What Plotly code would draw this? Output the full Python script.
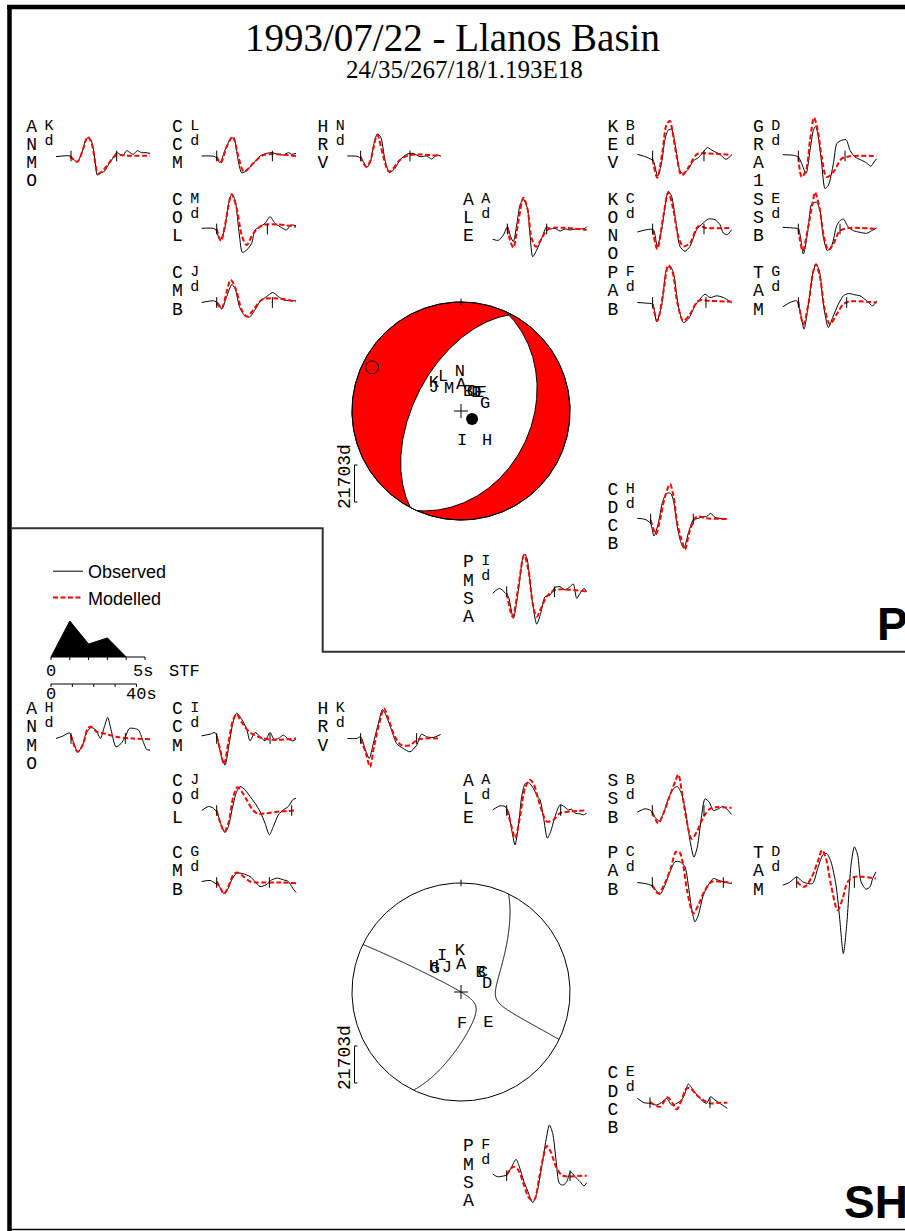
import numpy as np
import plotly.graph_objects as go

W, H = 905, 1231

# ---------------------------------------------------------------- data
TITLE = "1993/07/22 - Llanos Basin"
STRIKE, DIP, RAKE, DEPTH = 24, 35, 267, 18
M0_TEXT = "1.193E18"
AMP_LABEL = "21703d"

DT = 44.0 / 282          # seconds per digitised step
STF_T = [0, 1, 2, 3, 4]
STF_A = [0.0, 1.0, 0.36, 0.53, 0.0]
STF_TICKS = [0, 1, 2, 3, 4, 5]
TIME_BAR_TICKS = [0, 10, 20, 30, 40]

P_STA = ['ANMO', 'CCM', 'HRV', 'COL', 'CMB', 'ALE', 'KEV', 'KONO', 'PAB', 'GRA1', 'SSB', 'TAM', 'CDCB', 'PMSA']
P_CODE = ['K', 'L', 'N', 'M', 'J', 'A', 'B', 'C', 'F', 'D', 'E', 'G', 'H', 'I']
P_PICK1 = [45, 45, 40, 45, 45, 44, 46, 46, 46, 47, 47, 47, 40, 42]
P_PICK2 = [182, 212, 188, 197, 212, 162, 200, 200, 206, 187, 172, 192, 168, 185]

SH_STA = ['ANMO', 'CCM', 'HRV', 'COL', 'CMB', 'ALE', 'SSB', 'PAB', 'TAM', 'CDCB', 'PMSA']
SH_CODE = ['H', 'I', 'K', 'J', 'G', 'A', 'B', 'C', 'D', 'E', 'F']
SH_PICK1 = [45, 45, 40, 45, 45, 42, 45, 45, 42, 38, 42]
SH_PICK2 = [208, 205, 208, 270, 203, 204, 200, 258, 215, 218, 232]

# waveforms: (sample step, amplitude counts)
P_ANMO_OBS = [(0,-2),(42,0),(52,-10),(64,-17),(77,8),(90,50),(97,56),(107,43),(117,-12),(124,-57),(137,-50),(147,-44),(154,-32),(167,-12),(182,10),(192,5),(200,0),(212,16),(222,10),(232,5),(244,16),(257,10),(270,10),(282,8)]
P_ANMO_SYN = [(42,0),(64,-17),(82,23),(95,58),(107,38),(127,-52),(142,-42),(154,-27),(182,3),(212,1),(282,1)]
P_CCM_OBS = [(0,0),(40,-2),(55,-20),(70,18),(90,56),(100,43),(110,-17),(120,-50),(135,-44),(155,-22),(175,0),(195,8),(212,10),(225,6),(245,3),(260,10),(270,5),(283,8)]
P_CCM_SYN = [(45,-2),(57,-20),(75,28),(93,58),(110,-2),(127,-47),(155,-22),(185,3),(283,0)]
P_HRV_OBS = [(0,0),(33,-2),(48,-17),(58,-34),(68,-22),(78,28),(90,66),(100,58),(113,-12),(126,-50),(143,-37),(158,-12),(178,5),(198,8),(218,-2),(238,0),(253,-9),(268,3),(280,0)]
P_HRV_SYN = [(40,-2),(56,-32),(68,-17),(90,63),(108,-2),(126,-47),(158,-12),(188,3),(280,0)]
P_COL_OBS = [(0,2),(40,0),(55,-33),(67,-8),(80,72),(90,104),(100,87),(113,-18),(122,-70),(135,-63),(150,-43),(160,-3),(175,7),(190,17),(205,37),(220,17),(240,4),(255,-3),(267,12),(283,10)]
P_COL_SYN = [(45,0),(58,-36),(70,12),(90,104),(105,62),(120,-18),(135,-48),(155,-13),(185,12),(283,7)]
P_CMB_OBS = [(0,0),(35,5),(50,-2),(60,-20),(75,18),(90,53),(100,43),(113,-12),(127,-37),(143,-44),(160,-22),(175,3),(195,18),(213,30),(230,18),(245,8),(283,5)]
P_CMB_SYN = [(45,-2),(60,-17),(75,33),(87,68),(103,38),(120,-22),(135,-42),(155,-22),(180,8),(215,13),(283,3)]
P_ALE_OBS = [(0,-31),(17,-34),(32,-18),(44,7),(54,-23),(62,-38),(72,12),(82,72),(92,90),(104,62),(112,-18),(120,-83),(132,-63),(147,-28),(162,7),(172,0),(187,2),(202,-6),(217,0),(232,-3),(247,0),(262,0),(277,2),(282,7)]
P_ALE_SYN = [(44,2),(52,-33),(62,-56),(77,22),(92,94),(104,62),(117,-28),(130,-53),(147,-28),(167,0),(282,-3)]
P_KEV_OBS = [(0,5),(18,0),(38,-8),(48,-15),(61,-60),(73,-20),(83,50),(93,78),(103,80),(116,20),(128,-45),(138,-52),(153,-40),(168,-15),(183,-5),(198,12),(210,25),(228,15),(248,5),(266,-10),(283,3)]
P_KEV_SYN = [(46,-10),(60,-65),(75,10),(88,95),(98,105),(106,70),(118,0),(133,-58),(153,-35),(178,5),(198,8),(283,3)]
P_KONO_OBS = [(0,-9),(28,-2),(48,-2),(60,-52),(73,-2),(83,68),(93,113),(103,98),(116,18),(128,-52),(143,-67),(158,-52),(178,-2),(198,18),(213,30),(233,28),(248,13),(258,-12),(270,-17),(283,-2)]
P_KONO_SYN = [(46,-2),(60,-60),(78,38),(93,110),(108,58),(123,-22),(138,-52),(158,-42),(183,8),(208,3),(283,3)]
P_PAB_OBS = [(0,0),(28,-2),(46,-5),(58,-58),(73,-10),(88,100),(98,110),(108,90),(123,-10),(138,-60),(153,-50),(173,-10),(188,10),(203,25),(218,15),(238,20),(258,15),(283,0)]
P_PAB_SYN = [(46,-5),(60,-55),(78,30),(93,112),(106,90),(120,0),(138,-55),(158,-35),(183,5),(218,5),(283,2)]
P_GRA1_OBS = [(0,4),(32,2),(47,-3),(57,-23),(70,-53),(82,17),(92,77),(99,89),(107,57),(117,-23),(127,-98),(137,-88),(152,-23),(162,37),(172,45),(190,49),(202,17),(217,-3),(237,-13),(252,-21),(264,-31),(274,-18),(282,-8)]
P_GRA1_SYN = [(47,-3),(57,-63),(70,-43),(82,47),(94,115),(105,77),(117,-3),(132,-63),(152,-48),(177,-8),(202,-1),(282,0)]
P_SSB_OBS = [(0,5),(32,3),(47,0),(62,-75),(77,5),(87,75),(102,80),(112,55),(122,-25),(134,-65),(147,-50),(162,10),(172,25),(182,30),(197,5),(212,-5),(232,-10),(252,-13),(267,-5),(282,3)]
P_SSB_SYN = [(47,0),(60,-65),(77,10),(90,80),(97,110),(110,65),(124,-25),(137,-63),(152,-45),(172,-5),(202,3),(282,0)]
P_TAM_OBS = [(0,-13),(22,0),(42,5),(52,-25),(64,-80),(77,-5),(90,85),(100,115),(110,95),(122,-5),(137,-75),(150,-45),(167,-5),(182,20),(197,27),(217,23),(232,20),(252,5),(270,-10),(282,5)]
P_TAM_SYN = [(47,3),(62,-65),(77,-5),(92,95),(100,115),(112,75),(127,-25),(142,-65),(162,-35),(182,-5),(202,3),(282,0)]
P_CDCB_OBS = [(0,2),(23,-1),(40,-13),(50,-51),(63,-13),(76,52),(88,77),(100,77),(108,57),(120,-23),(130,-68),(140,-88),(153,-43),(168,-3),(183,2),(198,7),(208,7),(220,17),(233,5),(248,2),(270,0)]
P_CDCB_SYN = [(40,-3),(56,-45),(68,-3),(83,67),(98,105),(108,72),(120,-13),(133,-63),(143,-91),(158,-33),(178,7),(208,2),(270,0)]
P_PMSA_OBS = [(0,-5),(20,10),(37,-3),(47,-15),(62,-80),(77,5),(90,100),(97,113),(104,95),(117,-15),(132,-97),(144,-65),(157,-15),(172,-10),(187,13),(202,15),(217,5),(232,15),(242,23),(252,-20),(262,-5),(274,10),(282,0)]
P_PMSA_SYN = [(42,-5),(60,-75),(77,15),(94,110),(107,65),(120,-35),(132,-75),(147,-45),(162,-15),(187,5),(282,0)]

SH_ANMO_OBS = [(0,0),(20,7),(40,17),(50,-5),(65,-40),(78,-25),(90,15),(105,33),(120,25),(133,0),(145,35),(155,63),(165,27),(180,-25),(195,-15),(208,5),(220,30),(235,30),(248,25),(260,-5),(272,-33),(282,-35)]
SH_ANMO_SYN = [(45,10),(65,-40),(82,-15),(95,30),(105,35),(122,20),(145,15),(180,5),(230,0),(282,-2)]
SH_CCM_OBS = [(0,8),(25,13),(40,18),(47,0),(60,-57),(70,-80),(83,-12),(95,53),(105,76),(120,58),(135,28),(145,-7),(160,18),(173,8),(190,-7),(205,18),(217,-2),(230,0),(245,10),(260,-2),(273,-7),(283,-2)]
SH_CCM_SYN = [(45,8),(55,-32),(67,-77),(80,-12),(95,58),(105,73),(120,48),(145,18),(175,3),(215,-4),(283,0)]
SH_HRV_OBS = [(0,0),(28,0),(40,5),(53,-30),(66,-60),(78,-15),(93,45),(106,87),(118,65),(133,25),(148,-15),(168,-30),(188,-40),(208,-20),(223,13),(238,5),(258,3),(280,12)]
SH_HRV_SYN = [(40,0),(56,-45),(68,-85),(80,-25),(96,45),(110,90),(123,60),(143,5),(163,-20),(188,-20),(213,-3),(280,0)]
SH_COL_OBS = [(0,0),(20,12),(35,7),(47,-8),(60,-48),(70,-66),(80,-48),(93,12),(105,57),(115,72),(130,62),(145,42),(160,22),(175,-3),(190,-38),(203,-73),(215,-48),(230,-13),(245,2),(260,12),(273,32),(283,37)]
SH_COL_SYN = [(45,0),(58,-43),(68,-63),(80,-38),(95,42),(107,70),(120,57),(135,32),(153,2),(170,-10),(195,-8),(235,-3),(283,0)]
SH_CMB_OBS = [(0,3),(25,6),(40,-2),(53,-12),(65,-32),(77,-22),(90,8),(105,28),(125,26),(145,18),(160,3),(175,-12),(193,-7),(210,8),(227,13),(245,8),(260,3),(273,-17),(283,-30)]
SH_CMB_SYN = [(45,3),(55,-14),(67,-34),(80,-12),(95,23),(107,30),(125,18),(145,3),(165,0),(195,0),(235,0),(283,-2)]
SH_ALE_OBS = [(0,2),(22,14),(37,12),(47,-3),(57,-58),(67,-103),(77,-48),(87,42),(97,80),(107,84),(122,67),(134,42),(142,32),(152,-18),(164,-83),(174,-63),(187,-18),(202,17),(214,12),(227,2),(237,4),(247,-8),(262,-10),(272,-13),(282,-8)]
SH_ALE_SYN = [(42,2),(54,-38),(67,-83),(82,-18),(97,67),(112,92),(124,77),(137,32),(150,-8),(162,-33),(182,-28),(202,-8),(232,-3),(282,0)]
SH_SSB_OBS = [(0,-5),(23,5),(40,0),(53,-20),(66,-32),(78,-10),(93,35),(108,65),(120,72),(133,50),(146,-10),(158,-90),(170,-140),(180,-110),(193,-15),(203,35),(216,25),(228,0),(243,5),(256,12),(268,5),(283,-12)]
SH_SSB_SYN = [(45,-5),(63,-38),(78,-10),(96,40),(113,85),(123,108),(133,60),(148,-30),(163,-85),(178,-65),(198,-20),(218,5),(238,10),(283,8)]
SH_PAB_OBS = [(0,0),(23,-3),(45,-10),(56,-23),(68,-36),(83,-8),(98,32),(113,62),(128,62),(143,47),(153,-8),(163,-78),(173,-118),(183,-98),(198,-38),(213,-8),(228,12),(243,7),(258,2),(283,-3)]
SH_PAB_SYN = [(45,-8),(63,-33),(80,-8),(100,42),(116,92),(126,92),(136,62),(150,-28),(168,-93),(183,-68),(203,-23),(223,2),(253,2),(283,0)]
SH_TAM_OBS = [(0,-8),(20,0),(42,17),(60,2),(75,-3),(90,-3),(105,42),(120,82),(132,87),(145,62),(160,-8),(170,-98),(182,-213),(192,-128),(205,52),(215,107),(225,82),(235,2),(250,-20),(262,-13),(270,12),(280,32)]
SH_TAM_SYN = [(42,2),(65,-13),(85,12),(105,62),(118,97),(130,72),(145,-8),(165,-83),(180,-48),(195,2),(215,17),(240,17),(280,12)]
SH_CDCB_OBS = [(0,13),(20,0),(38,-2),(58,-7),(76,3),(88,13),(103,-7),(118,-2),(133,8),(143,28),(153,56),(168,38),(183,18),(198,3),(208,-2),(220,18),(233,8),(248,-2),(270,-17)]
SH_CDCB_SYN = [(38,3),(68,-12),(90,16),(106,-2),(118,-20),(133,8),(148,43),(160,43),(178,23),(198,8),(218,-2),(248,0),(270,0)]
SH_PMSA_OBS = [(0,5),(14,-3),(32,-1),(42,2),(57,27),(70,49),(80,27),(92,-13),(104,-43),(120,-81),(132,-53),(147,27),(160,107),(170,152),(180,127),(190,47),(200,-23),(212,-28),(222,-18),(234,12),(247,-3),(262,-18),(274,-31),(282,-21)]
SH_PMSA_SYN = [(42,2),(62,27),(77,17),(92,-23),(110,-68),(124,-73),(140,-3),(152,57),(162,89),(174,72),(190,27),(207,2),(227,-3),(252,-1),(282,0)]

# station projections on the focal spheres (unit circle coordinates)
P_BALL_CODE = ['N', 'L', 'K', 'J', 'M', 'A', 'B', 'C', 'D', 'E', 'F', 'G', 'I', 'H']
P_BALL_X = [-0.01, -0.165, -0.25, -0.25, -0.11, 0.0, 0.064, 0.10, 0.14, 0.165, 0.19, 0.22, 0.01, 0.24]
P_BALL_Y = [0.36, 0.31, 0.26, 0.21, 0.20, 0.24, 0.18, 0.18, 0.17, 0.17, 0.17, 0.07, -0.27, -0.27]
SH_BALL_CODE = ['K', 'I', 'H', 'G', 'J', 'A', 'B', 'C', 'D', 'F', 'E']
SH_BALL_X = [-0.01, -0.174, -0.25, -0.24, -0.13, 0.0, 0.18, 0.20, 0.24, 0.01, 0.25]
SH_BALL_Y = [0.376, 0.33, 0.23, 0.21, 0.22, 0.25, 0.18, 0.18, 0.08, -0.29, -0.28]

P_WAVES = {'ANMO': (P_ANMO_OBS, P_ANMO_SYN), 'CCM': (P_CCM_OBS, P_CCM_SYN), 'HRV': (P_HRV_OBS, P_HRV_SYN),
           'COL': (P_COL_OBS, P_COL_SYN), 'CMB': (P_CMB_OBS, P_CMB_SYN), 'ALE': (P_ALE_OBS, P_ALE_SYN),
           'KEV': (P_KEV_OBS, P_KEV_SYN), 'KONO': (P_KONO_OBS, P_KONO_SYN), 'PAB': (P_PAB_OBS, P_PAB_SYN),
           'GRA1': (P_GRA1_OBS, P_GRA1_SYN), 'SSB': (P_SSB_OBS, P_SSB_SYN), 'TAM': (P_TAM_OBS, P_TAM_SYN),
           'CDCB': (P_CDCB_OBS, P_CDCB_SYN), 'PMSA': (P_PMSA_OBS, P_PMSA_SYN)}
SH_WAVES = {'ANMO': (SH_ANMO_OBS, SH_ANMO_SYN), 'CCM': (SH_CCM_OBS, SH_CCM_SYN), 'HRV': (SH_HRV_OBS, SH_HRV_SYN),
            'COL': (SH_COL_OBS, SH_COL_SYN), 'CMB': (SH_CMB_OBS, SH_CMB_SYN), 'ALE': (SH_ALE_OBS, SH_ALE_SYN),
            'SSB': (SH_SSB_OBS, SH_SSB_SYN), 'PAB': (SH_PAB_OBS, SH_PAB_SYN), 'TAM': (SH_TAM_OBS, SH_TAM_SYN),
            'CDCB': (SH_CDCB_OBS, SH_CDCB_SYN), 'PMSA': (SH_PMSA_OBS, SH_PMSA_SYN)}

# ---------------------------------------------------------------- layout
COL_X = [56.0, 201.7, 347.3, 492.7, 637.3, 782.7]
P_ROW_Y = [156.0, 229.0, 302.5, 519.0, 591.7]
SH_ROW_Y = [738.5, 810.5, 882.5, 1102.7, 1175.7]
P_CELL = {'ANMO': (0, 0), 'CCM': (1, 0), 'HRV': (2, 0), 'COL': (1, 1), 'CMB': (1, 2), 'ALE': (3, 1),
          'KEV': (4, 0), 'KONO': (4, 1), 'PAB': (4, 2), 'GRA1': (5, 0), 'SSB': (5, 1), 'TAM': (5, 2),
          'CDCB': (4, 3), 'PMSA': (3, 4)}
SH_CELL = {'ANMO': (0, 0), 'CCM': (1, 0), 'HRV': (2, 0), 'COL': (1, 1), 'CMB': (1, 2), 'ALE': (3, 1),
           'SSB': (4, 1), 'PAB': (4, 2), 'TAM': (5, 2), 'CDCB': (4, 3), 'PMSA': (3, 4)}
P_BALL_C = (461.0, 411.0)
SH_BALL_C = (461.0, 992.0)
BALL_R = 109.0
PPS = 1.0 / (3 * DT)      # px per second
PPC = 1.0 / 3             # px per amplitude count
MONO = 'Liberation Mono'

fig = go.Figure()
axes_layout = {}
counter = {'n': 1}


def new_axes(px_l, px_r, px_t, px_b, x0, y0, sx, sy):
    px_l = max(px_l, 0.0); px_r = min(px_r, W)
    px_t = max(px_t, 0.0); px_b = min(px_b, H)
    counter['n'] += 1
    n = counter['n']
    axes_layout[f'xaxis{n}'] = dict(domain=[px_l / W, px_r / W], range=[(px_l - x0) / sx, (px_r - x0) / sx],
                                    visible=False, fixedrange=True, anchor=f'y{n}')
    axes_layout[f'yaxis{n}'] = dict(domain=[1 - px_b / H, 1 - px_t / H], range=[(y0 - px_b) / sy, (y0 - px_t) / sy],
                                    visible=False, fixedrange=True, anchor=f'x{n}')
    return f'x{n}', f'y{n}'


lab_x, lab_y, lab_t = [], [], []
sup_x, sup_y, sup_t = [], [], []


def add_station(name, code, obs, syn, picks, x0, y0, legend):
    xa, ya = new_axes(x0 - 8, x0 + 102, y0 - 85, y0 + 85, x0, y0, PPS, PPC)
    fig.add_trace(go.Scatter(x=[k * DT for k, _ in obs], y=[a for _, a in obs], xaxis=xa, yaxis=ya, mode='lines',
                             line=dict(color='black', width=1, shape='spline', smoothing=0.7),
                             name='Observed', showlegend=legend, hoverinfo='skip'))
    fig.add_trace(go.Scatter(x=[k * DT for k, _ in syn], y=[a for _, a in syn], xaxis=xa, yaxis=ya, mode='lines',
                             line=dict(color='red', width=2, dash='5px,2.5px', shape='spline', smoothing=0.9),
                             name='Modelled', showlegend=legend, hoverinfo='skip'))
    tx, ty = [], []
    for p in picks:
        tx.extend([p * DT, p * DT, None])
        ty.extend([16, -16, None])
    fig.add_trace(go.Scatter(x=tx, y=ty, xaxis=xa, yaxis=ya, mode='lines', line=dict(color='black', width=1),
                             showlegend=False, hoverinfo='skip'))
    for i, ch in enumerate(name):
        lab_x.append(x0 - 24.3); lab_y.append(y0 - 29 + 18.3 * i); lab_t.append(ch)
    sup_x.extend([x0 - 7, x0 - 7]); sup_y.extend([y0 - 30, y0 - 15]); sup_t.extend([code, 'd'])


first = True
for i, st in enumerate(P_STA):
    c, r = P_CELL[st]
    add_station(st, P_CODE[i], *P_WAVES[st], [P_PICK1[i], P_PICK2[i]], COL_X[c], P_ROW_Y[r], first)
    first = False
for i, st in enumerate(SH_STA):
    c, r = SH_CELL[st]
    add_station(st, SH_CODE[i], *SH_WAVES[st], [SH_PICK1[i], SH_PICK2[i]], COL_X[c], SH_ROW_Y[r], False)

fig.add_trace(go.Scatter(x=lab_x, y=lab_y, text=lab_t, mode='text', textposition='middle center',
                         textfont=dict(family=MONO, size=18, color='black'), showlegend=False, hoverinfo='skip'))
fig.add_trace(go.Scatter(x=sup_x, y=sup_y, text=sup_t, mode='text', textposition='middle center',
                         textfont=dict(family=MONO, size=15, color='black'), showlegend=False, hoverinfo='skip'))

# ---------------------------------------------------------------- focal mechanism geometry
s, dp, rk = np.radians([STRIKE, DIP, RAKE])
n_vec = np.array([-np.sin(dp) * np.sin(s), np.sin(dp) * np.cos(s), -np.cos(dp)])
u_vec = np.array([np.cos(rk) * np.cos(s) + np.sin(rk) * np.cos(dp) * np.sin(s),
                  np.cos(rk) * np.sin(s) - np.sin(rk) * np.cos(dp) * np.cos(s),
                  -np.sin(rk) * np.sin(dp)])
up2 = -u_vec if u_vec[2] > 0 else u_vec
dip2 = np.degrees(np.arccos(abs(u_vec[2])))
strike2 = (np.degrees(np.arctan2(up2[1], up2[0])) - 90) % 360


def to_xy(v):
    v = np.asarray(v, float)
    v = v / np.linalg.norm(v)
    if v[2] < 0:
        v = -v
    pl = np.arcsin(np.clip(v[2], -1, 1)); tr = np.arctan2(v[1], v[0])
    r = np.sqrt(2) * np.sin((np.pi / 2 - pl) / 2)
    return r * np.sin(tr), r * np.cos(tr)


def plane_curve(strike, dip, n=241):
    st, dd = np.radians(strike), np.radians(dip)
    th = np.linspace(0, np.pi, n)
    sv = np.array([np.cos(st), np.sin(st), 0.0])
    dv = np.array([np.cos(dd) * np.cos(st + np.pi / 2), np.cos(dd) * np.sin(st + np.pi / 2), np.sin(dd)])
    v = np.outer(np.cos(th), sv) + np.outer(np.sin(th), dv)
    pl = np.arcsin(np.clip(v[:, 2], -1, 1)); tr = np.arctan2(v[:, 1], v[:, 0])
    r = np.sqrt(2) * np.sin((np.pi / 2 - pl) / 2)
    return r * np.sin(tr), r * np.cos(tr)


th = np.linspace(0, 2 * np.pi, 361)
circ_x, circ_y = np.sin(th), np.cos(th)


def ball_axes(c):
    cx, cy = c
    return new_axes(cx - 125, cx + 125, cy - 125, cy + 125, cx, cy, BALL_R, BALL_R)


# P ball
xa, ya = ball_axes(P_BALL_C)
fig.add_trace(go.Scatter(x=circ_x, y=circ_y, xaxis=xa, yaxis=ya, mode='lines', fill='toself', fillcolor='red',
                         line=dict(color='black', width=1), showlegend=False, hoverinfo='skip'))
x1, y1 = plane_curve(STRIKE, DIP)
x2, y2 = plane_curve(strike2, dip2)
fig.add_trace(go.Scatter(x=np.concatenate([x1, x2, x1[:1]]), y=np.concatenate([y1, y2, y1[:1]]), xaxis=xa, yaxis=ya,
                         mode='lines', fill='toself', fillcolor='white', line=dict(color='black', width=1),
                         showlegend=False, hoverinfo='skip'))
fig.add_trace(go.Scatter(x=circ_x, y=circ_y, xaxis=xa, yaxis=ya, mode='lines', line=dict(color='black', width=1),
                         showlegend=False, hoverinfo='skip'))
fig.add_trace(go.Scatter(x=[0, 0], y=[0.97, 1.03], xaxis=xa, yaxis=ya, mode='lines', line=dict(color='black', width=1),
                         showlegend=False, hoverinfo='skip'))
tx_, ty_ = to_xy((n_vec + u_vec) / np.sqrt(2))
px_, py_ = to_xy((n_vec - u_vec) / np.sqrt(2))
fig.add_trace(go.Scatter(x=[tx_], y=[ty_], xaxis=xa, yaxis=ya, mode='markers',
                         marker=dict(symbol='circle-open', size=13, color='black', line=dict(width=1)),
                         showlegend=False, hoverinfo='skip'))
fig.add_trace(go.Scatter(x=[px_], y=[py_], xaxis=xa, yaxis=ya, mode='markers',
                         marker=dict(symbol='circle', size=12, color='black'), showlegend=False, hoverinfo='skip'))
fig.add_trace(go.Scatter(x=[0], y=[0], xaxis=xa, yaxis=ya, mode='markers',
                         marker=dict(symbol='cross-thin', size=10, line=dict(width=1, color='black')),
                         showlegend=False, hoverinfo='skip'))
fig.add_trace(go.Scatter(x=P_BALL_X, y=P_BALL_Y, text=P_BALL_CODE, xaxis=xa, yaxis=ya, mode='text',
                         textfont=dict(family=MONO, size=17, color='black'), showlegend=False, hoverinfo='skip'))

# SH ball
xa, ya = ball_axes(SH_BALL_C)
g = np.linspace(-1.0, 1.0, 401)
GX, GY = np.meshgrid(g, g)
R = np.hypot(GX, GY)
inc = 2 * np.arcsin(np.clip(R / np.sqrt(2), 0, 1))
dphi = np.arctan2(GX, GY) - s
F = (np.cos(rk) * np.cos(dp) * np.cos(inc) * np.sin(dphi)
     + np.cos(rk) * np.sin(dp) * np.sin(inc) * np.cos(2 * dphi)
     + np.sin(rk) * np.cos(2 * dp) * np.cos(inc) * np.cos(dphi)
     - 0.5 * np.sin(rk) * np.sin(2 * dp) * np.sin(inc) * np.sin(2 * dphi))
F[R > 1.0] = np.nan
fig.add_trace(go.Contour(x=g, y=g, z=F, xaxis=xa, yaxis=ya, autocontour=False,
                         contours=dict(start=0, end=0, size=1, coloring='lines', showlabels=False),
                         line=dict(width=1, smoothing=1), colorscale=[[0, 'black'], [1, 'black']],
                         showscale=False, showlegend=False, hoverinfo='skip'))
fig.add_trace(go.Scatter(x=circ_x, y=circ_y, xaxis=xa, yaxis=ya, mode='lines', line=dict(color='black', width=1),
                         showlegend=False, hoverinfo='skip'))
fig.add_trace(go.Scatter(x=[0, 0], y=[0.97, 1.03], xaxis=xa, yaxis=ya, mode='lines', line=dict(color='black', width=1),
                         showlegend=False, hoverinfo='skip'))
fig.add_trace(go.Scatter(x=[0], y=[0], xaxis=xa, yaxis=ya, mode='markers',
                         marker=dict(symbol='cross-thin', size=10, line=dict(width=1, color='black')),
                         showlegend=False, hoverinfo='skip'))
fig.add_trace(go.Scatter(x=SH_BALL_X, y=SH_BALL_Y, text=SH_BALL_CODE, xaxis=xa, yaxis=ya, mode='text',
                         textfont=dict(family=MONO, size=17, color='black'), showlegend=False, hoverinfo='skip'))

# STF panel
STF_PX_PER_S, STF_PX_PER_UNIT = 18.8, 36.0
xa, ya = new_axes(41, 160, 612, 668, 51, 657, STF_PX_PER_S, STF_PX_PER_UNIT)
fig.add_trace(go.Scatter(x=STF_T, y=STF_A, xaxis=xa, yaxis=ya, mode='lines', fill='toself', fillcolor='black',
                         line=dict(color='black', width=1), showlegend=False, hoverinfo='skip'))
sx_, sy_ = [STF_TICKS[0], STF_TICKS[-1], None], [0, 0, None]
for t in STF_TICKS:
    sx_.extend([t, t, None]); sy_.extend([0, -3 / STF_PX_PER_UNIT, None])
fig.add_trace(go.Scatter(x=sx_, y=sy_, xaxis=xa, yaxis=ya, mode='lines', line=dict(color='black', width=1),
                         showlegend=False, hoverinfo='skip'))
# time scale bar (same time scale as the waveforms)
xa, ya = new_axes(41, 160, 670, 700, 51, 684, PPS, PPC)
bx, by = [TIME_BAR_TICKS[0], TIME_BAR_TICKS[-1], None], [0, 0, None]
for t in TIME_BAR_TICKS:
    bx.extend([t, t, None]); by.extend([0, -9, None])
fig.add_trace(go.Scatter(x=bx, y=by, xaxis=xa, yaxis=ya, mode='lines', line=dict(color='black', width=1),
                         showlegend=False, hoverinfo='skip'))

# ---------------------------------------------------------------- frame, text
shapes = [
    dict(type='line', xref='x', yref='y', x0=7, x1=W, y0=7, y1=7, line=dict(color='black', width=4.5)),
    dict(type='line', xref='x', yref='y', x0=9.5, x1=9.5, y0=5, y1=H, line=dict(color='black', width=4.5)),
    dict(type='line', xref='x', yref='y', x0=9.5, x1=W, y0=1229.5, y1=1229.5, line=dict(color='black', width=1.5)),
    dict(type='path', xref='x', yref='y', path='M 11 528.3 L 322.7 528.3 L 322.7 651.7 L 905 651.7',
         line=dict(color='#333333', width=2)),
]
for cy in (P_BALL_C[1], SH_BALL_C[1]):
    shapes.append(dict(type='path', xref='x', yref='y',
                       path=f'M 357.5 {cy + 54} L 354.5 {cy + 54} L 354.5 {cy + 91} L 357.5 {cy + 91}',
                       line=dict(color='black', width=1)))

ann = []


def text(x, y, t, size, family, xanchor='center', angle=0, color='black'):
    ann.append(dict(x=x, y=y, xref='x', yref='y', text=t, showarrow=False, xanchor=xanchor, yanchor='middle',
                    textangle=angle, font=dict(family=family, size=size, color=color)))


text(452.5, 37, TITLE, 39, 'Liberation Serif')
text(464, 69, f"{STRIKE}/{DIP}/{RAKE}/{DEPTH}/{M0_TEXT}", 25, 'Liberation Serif')
text(51, 671, '0', 17, MONO)
text(143, 671, '5s', 17, MONO)
text(184, 671, 'STF', 17, MONO)
text(51, 694, '0', 17, MONO)
text(141, 694, '40s', 17, MONO)
text(345, P_BALL_C[1] + 66, AMP_LABEL, 18, MONO, angle=-90)
text(345, SH_BALL_C[1] + 66, AMP_LABEL, 18, MONO, angle=-90)
text(875, 624, '<b>P</b>', 46, 'Liberation Sans', xanchor='left')
text(842, 1202, '<b>SH</b>', 46, 'Liberation Sans', xanchor='left')

fig.update_layout(
    width=W, height=H, margin=dict(l=0, r=0, t=0, b=0, pad=0),
    paper_bgcolor='white', plot_bgcolor='rgba(0,0,0,0)',
    xaxis=dict(domain=[0, 1], range=[0, W], visible=False, fixedrange=True),
    yaxis=dict(domain=[0, 1], range=[H, 0], visible=False, fixedrange=True),
    shapes=shapes, annotations=ann, hovermode=False,
    legend=dict(x=48 / W, y=1 - 553 / H, xanchor='left', yanchor='top', bgcolor='rgba(0,0,0,0)',
                font=dict(family='Liberation Sans', size=18, color='black'), tracegroupgap=0, itemwidth=30),
    **axes_layout,
)

fig.write_html("out.html", config={'displayModeBar': False, 'staticPlot': True},
               post_script="document.body.style.margin='0px';document.body.style.overflow='hidden';")
